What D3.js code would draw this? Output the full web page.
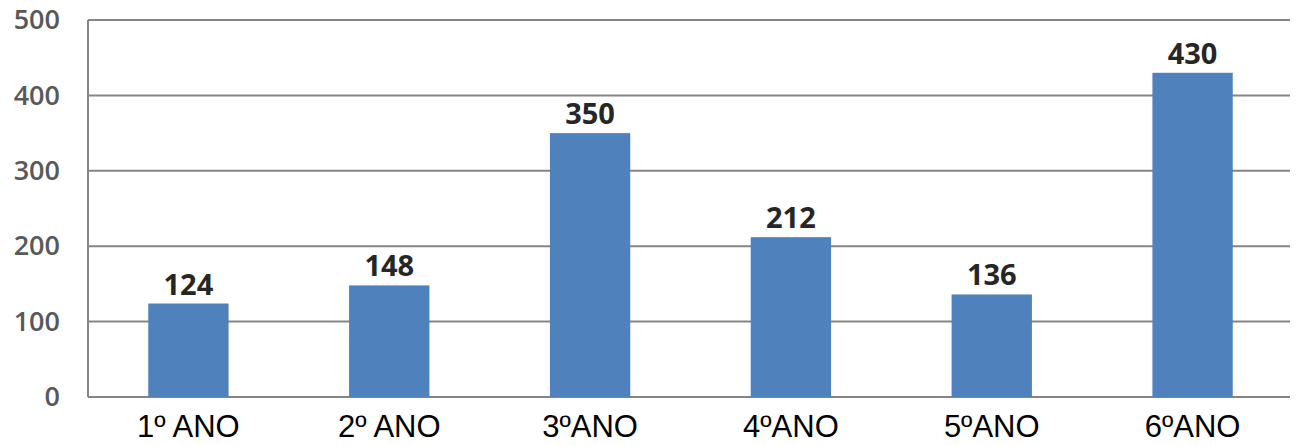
<!DOCTYPE html>
<html>
<head>
<meta charset="utf-8">
<script src="https://cdn.jsdelivr.net/npm/d3@7"></script>
<style>
  body { margin: 0; background: #fff; }
  svg { display: block; }
</style>
</head>
<body>
<svg></svg>
<script>
// data
var categories = ["1º ANO", "2º ANO", "3ºANO", "4ºANO", "5ºANO", "6ºANO"];
var values = [124, 148, 350, 212, 136, 430];
var yTicks = [0, 100, 200, 300, 400, 500];

var svgwidth = 1298, svgheight = 446;
var margin = {top: 20, right: 5, bottom: 49, left: 88};
var w = svgwidth - margin.left - margin.right;
var h = svgheight - margin.top - margin.bottom;

var svg = d3.select('svg')
    .attr("width", svgwidth)
    .attr("height", svgheight);

var g = svg.append("g")
    .attr("transform", "translate(" + margin.left + "," + margin.top + ")");

var xScale = d3.scaleBand()
    .domain(categories)
    .range([0, w])
    .paddingInner(0.6)
    .paddingOuter(0.3);

var yScale = d3.scaleLinear()
    .domain([0, 500])
    .range([h, 0]);

// gridlines
g.selectAll("line.grid")
    .data(yTicks)
    .enter()
    .append("line")
    .attr("class", "grid")
    .attr("x1", 0)
    .attr("x2", w - 3)
    .attr("y1", function(d){ return yScale(d); })
    .attr("y2", function(d){ return yScale(d); })
    .attr("stroke", "#858585")
    .attr("stroke-width", 2);

// left axis line
g.append("line")
    .attr("x1", 0).attr("x2", 0)
    .attr("y1", yScale(500)).attr("y2", yScale(0))
    .attr("stroke", "#858585")
    .attr("stroke-width", 2);

// y tick labels
var yAxis = d3.axisLeft(yScale)
    .tickValues(yTicks)
    .tickSize(0)
    .tickPadding(28);
var ya = g.append("g").call(yAxis);
ya.select(".domain").remove();
ya.selectAll("text")
    .attr("font-family", "'Open Sans', sans-serif")
    .attr("font-size", 27)
    .attr("font-weight", 600)
    .attr("fill", "#595959");

// bars
g.selectAll("rect")
    .data(values)
    .enter()
    .append("rect")
    .attr("x", function(d, i){ return xScale(categories[i]); })
    .attr("y", function(d){ return yScale(d); })
    .attr("width", xScale.bandwidth())
    .attr("height", function(d){ return h - yScale(d); })
    .attr("fill", "#4f81bd");

// value labels
g.selectAll("text.val")
    .data(values)
    .enter()
    .append("text")
    .attr("class", "val")
    .text(function(d){ return d; })
    .attr("x", function(d, i){ return xScale(categories[i]) + xScale.bandwidth() / 2; })
    .attr("y", function(d){ return yScale(d) - 9; })
    .attr("text-anchor", "middle")
    .attr("font-family", "'Open Sans', sans-serif")
    .attr("font-size", 29)
    .attr("font-weight", 700)
    .attr("fill", "#262626");

// x labels
var xAxis = d3.axisBottom(xScale).tickSize(0).tickPadding(18);
var xa = g.append("g")
    .attr("transform", "translate(0," + h + ")")
    .call(xAxis);
xa.select(".domain").remove();
xa.selectAll("text")
    .attr("font-family", "'Liberation Sans', Arial, sans-serif")
    .attr("font-size", 31)
    .attr("fill", "#000");
</script>
</body>
</html>
